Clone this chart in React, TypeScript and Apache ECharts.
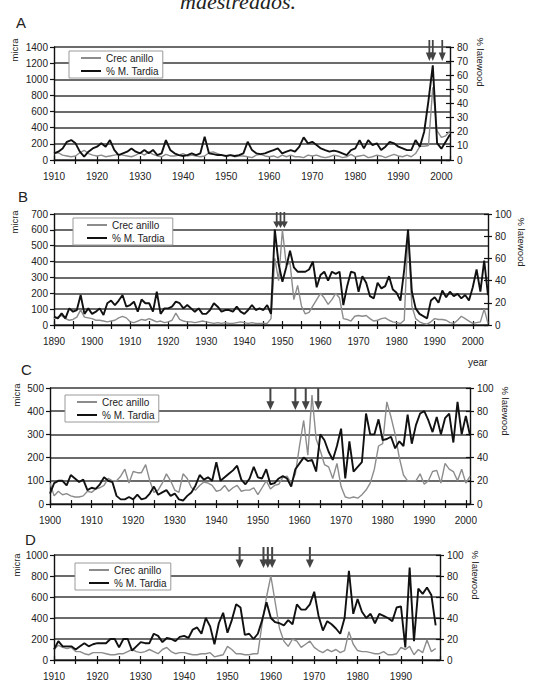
import React, { useEffect, useRef } from "react";
import * as echarts from "echarts";

// ---------- Panel A (1910-2002) ----------
const startA = 1910;
const endA = 2002;
const crecA = [
  80, 90, 60, 50, 40, 50, 90, 120, 80, 60,
  50, 60, 40, 50, 60, 70, 60, 50, 40, 60,
  90, 60, 100, 70, 50, 40, 70, 50, 50, 60,
  80, 50, 60, 50, 40, 50, 90, 100, 80, 60,
  50, 60, 40, 50, 50, 40, 30, 60, 70, 50,
  40, 50, 30, 60, 40, 60, 40, 40, 30, 60,
  50, 60, 40, 30, 40, 60, 50, 30, 40, 70,
  40, 50, 60, 30, 40, 60, 50, 30, 50, 70,
  50, 40, 60, 40, 80, 170, 170, 180, 900, 360,
  280, 300, 360,
];
const tardiaA = [
  4.7, 5.9, 8.2, 12.9, 14.1, 11.8, 5.9, 2.4, 5.9, 8.2,
  9.4, 11.8, 9.4, 14.1, 7.1, 3.5, 4.7, 5.9, 8.2, 5.9,
  4.7, 7.1, 4.7, 7.1, 3.5, 4.7, 14.1, 7.1, 4.7, 3.5,
  2.8, 3.5, 4.7, 3.5, 4.7, 16.5, 4.7, 4.2, 3.5, 3.5,
  2.8, 3.5, 2.8, 3.5, 4.7, 12.9, 7, 4.7, 4.2, 4.7,
  5.9, 7, 8.2, 4.7, 5.9, 7, 5.9, 9.4, 16, 11.8,
  12.9, 10.6, 8.2, 7, 5.9, 6.6, 5.9, 4.7, 3.5, 7,
  8.2, 14.1, 8.2, 14.1, 10.6, 11.8, 7, 9.4, 12.9, 11.8,
  9.4, 8.2, 7, 7, 14.1, 9.4, 20, 42, 67, 12,
  8, 13, 18,
];
const arrowsA = [1997.2, 1998, 2000.2];

// ---------- Panel B (1890-2004) ----------
const startB = 1890;
const endB = 2004;
const crecB = [
  40, 50, 60, 40, 30, 35, 50, 95, 50, 45,
  40, 30, 30, 25, 20, 25, 30, 45, 55, 45,
  20, 15, 25, 35, 30, 40, 30, 20, 25, 15,
  20, 30, 75, 35, 25, 20, 20, 15, 20, 25,
  20, 15, 10, 15, 10, 15, 10, 10, 15, 20,
  15, 10, 15, 10, 10, 10, 10, 40, 420, 280,
  600, 380, 390, 160, 250, 120, 70, 80, 120, 160,
  200, 170, 130, 160, 200, 170, 40, 35, 25, 55,
  60, 55, 60, 40, 25, 30, 40, 45, 30, 20,
  15, 10, 30, 590, 120, 40, 20, 10, 5, 20,
  40, 35, 35, 30, 15, 10, 30, 55, 40, 25,
  10, 15, 20, 100, 10,
];
const tardiaB = [
  7.5, 6, 10.5, 6, 15, 12, 13.5, 27, 10, 15,
  10, 12, 15, 9, 19.6, 22, 18, 22, 27, 16.5,
  18, 21, 12, 23, 19.6, 19.6, 12, 30, 10, 15,
  15, 16.5, 21, 19.6, 15, 18, 15, 12, 15, 10,
  10, 13.5, 19.6, 16.5, 12, 13.5, 13.5, 12, 16.5, 12,
  10, 13.5, 18, 13.5, 15, 13.5, 18, 10, 86, 55,
  39, 52, 67, 52, 48, 48, 48, 50, 57, 34,
  45, 48, 40, 48, 46, 48, 18, 35, 48, 47,
  30, 44, 38, 26, 24, 38, 33, 35, 44, 32,
  29, 22, 50, 86, 30, 15, 10, 8, 6, 22,
  25, 20, 31, 25, 30, 26, 28, 24, 27, 22,
  34, 50, 30, 58, 27,
];
const arrowsB = [1948.5, 1949.5, 1950.5];

// ---------- Panel C (1900-2001) ----------
const startC = 1900;
const endC = 2001;
const crecC = [
  90, 35, 55, 40, 45, 35, 30, 30, 35, 55,
  50, 65, 70, 80, 110, 100, 100, 120, 150, 90,
  140, 135, 135, 170, 100, 50, 60, 90, 130, 100,
  60, 50, 130, 110, 70, 60, 80, 95, 90, 80,
  55, 60, 80, 55, 70, 80, 55, 60, 60, 70,
  40, 70, 100, 65, 80, 85, 115, 120, 90, 130,
  250, 360, 210, 470, 280, 230, 170, 160, 110, 175,
  75, 30, 25, 30, 25, 40, 60, 90, 150, 250,
  260, 440, 375, 300, 200, 125, 100, 100, 100, 130,
  85, 100, 140, 145, 90, 175, 150, 140, 100, 150,
  90, 120,
];
const tardiaC = [
  9, 18, 20, 20, 16, 25, 22, 19, 21, 12,
  14, 13, 17, 23, 20, 19, 7, 4, 4, 6,
  4, 8, 4, 5, 9, 15, 8, 10, 12, 7,
  9, 4, 3, 7, 10, 16, 25, 21, 23, 20,
  36, 20, 23, 26, 29, 33, 21, 17, 22, 32,
  23, 22, 30, 17, 18, 22, 24, 22, 15, 30,
  35, 40, 37, 38, 28, 60, 55, 45, 38, 50,
  65, 22, 54, 28, 32, 36, 78, 60, 60, 73,
  55, 56, 58, 48, 54, 50, 77, 52, 68, 78,
  80, 72, 62, 75, 60, 74, 78, 53, 88, 60,
  76, 59,
];
const arrowsC = [1953, 1959, 1961.5, 1964.5];

// ---------- Panel D (1910-1998, axis to 1999) ----------
const startD = 1910;
const endD = 1999;
const crecD = [
  100, 140, 120, 110, 120, 80, 80, 60, 50, 70,
  70, 70, 60, 50, 50, 60, 60, 80, 100, 80,
  70, 80, 100, 80, 60, 100, 120, 80, 60, 70,
  70, 60, 50, 50, 60, 60, 70, 30, 40, 50,
  130, 100, 60, 60, 50, 50, 60, 60, 350, 600,
  800, 550, 300, 180, 130, 200, 180, 120, 150, 180,
  120, 90, 70, 100, 80, 100, 70, 90, 270, 150,
  90, 80, 80, 70, 60, 60, 80, 50, 50, 60,
  120, 100, 130, 50, 100, 70, 190, 80, 110,
];
const tardiaD = [
  10, 18, 13, 13, 13, 10, 13, 16, 13, 15,
  16, 16, 16, 20, 20, 12, 20, 20, 9, 13,
  17, 16, 16, 25, 23, 17, 21, 20, 18, 22,
  23, 21, 29, 31, 25, 40, 32, 15, 35, 45,
  26, 38, 53, 50, 24, 25, 20, 25, 38, 55,
  40, 36, 35, 33, 38, 34, 53, 48, 48, 53,
  65, 42, 28, 37, 34, 30, 25, 40, 85, 44,
  58, 46, 40, 44, 35, 44, 42, 40, 37, 50,
  51, 12, 88, 18, 68, 63, 69, 62, 33,
];
const arrowsD = [1952.8, 1958.3, 1959.3, 1960.3, 1969];

const NAME_CREC = "Crec anillo";
const NAME_TARDIA = "% M. Tardia";
const FONT = "'Liberation Sans', Arial, sans-serif";
const ARROW = "path://M3,0L5,0L5,12L8,12L4,20L0,12L3,12Z";

const panels = [
  {
    start: startA, end: endA, crec: crecA, tardia: tardiaA, arrows: arrowsA,
    leftMax: 1400, leftInt: 200, rightMax: 80, rightInt: 10,
    grid: { left: 54, top: 47, width: 396, height: 113 },
    legend: { left: 69, top: 51, padding: [2, 4, 2, 12] },
    arrow: { w: 7, h: 21, up: 7 },
  },
  {
    start: startB, end: endB, crec: crecB, tardia: tardiaB, arrows: arrowsB,
    leftMax: 700, leftInt: 100, rightMax: 100, rightInt: 20,
    grid: { left: 54, top: 214, width: 434, height: 111 },
    legend: { left: 73, top: 218, padding: [2, 8, 2, 14] },
    arrow: { w: 7, h: 16, up: 2 },
  },
  {
    start: startC, end: endC, crec: crecC, tardia: tardiaC, arrows: arrowsC,
    leftMax: 500, leftInt: 100, rightMax: 100, rightInt: 20,
    grid: { left: 50, top: 388, width: 420, height: 116 },
    legend: { left: 65, top: 395, padding: [2, 4, 2, 12] },
    arrow: { w: 8, h: 22, up: 0 },
  },
  {
    start: startD, end: endD, crec: crecD, tardia: tardiaD, arrows: arrowsD,
    leftMax: 1000, leftInt: 200, rightMax: 100, rightInt: 20,
    grid: { left: 54, top: 555, width: 386, height: 105 },
    legend: { left: 75, top: 563, padding: [2, 4, 2, 14] },
    arrow: { w: 8, h: 21, up: 8 },
  },
];

const pairs = (start: number, vals: number[]) => vals.map((v, i) => [start + i, v]);

const labelStyle = { fontSize: 10, color: "#222", fontFamily: FONT };
const axisLine = { show: true, onZero: false, lineStyle: { color: "#111", width: 1.4 } };
const tickLine = { color: "#111", width: 1.2 };
const plain = (v: number) => String(v);

function buildOption() {
  const grids: any[] = [];
  const xAxes: any[] = [];
  const yAxes: any[] = [];
  const series: any[] = [];
  const legends: any[] = [];

  panels.forEach((p, i) => {
    grids.push({ ...p.grid, containLabel: false, outerBoundsMode: "none" });
    xAxes.push({
      gridIndex: i, type: "value", position: "bottom", min: p.start, max: p.end, interval: 5,
      axisLine, axisTick: { show: true, length: 4, lineStyle: tickLine },
      axisLabel: { ...labelStyle, margin: 11, showMaxLabel: false, formatter: (v: number) => (v % 10 === 0 ? String(v) : "") },
      splitLine: { show: false },
    });
    xAxes.push({
      gridIndex: i, type: "value", position: "bottom", min: p.start, max: p.end, interval: 5,
      axisLine: { show: false }, axisTick: { show: true, inside: true, length: 4, lineStyle: tickLine },
      axisLabel: { show: false }, splitLine: { show: false },
    });
    yAxes.push({
      gridIndex: i, type: "value", position: "left", min: 0, max: p.leftMax, interval: p.leftInt,
      axisLine, axisTick: { show: true, length: 4, lineStyle: tickLine },
      axisLabel: { ...labelStyle, margin: 6, formatter: plain },
      splitLine: { show: true, lineStyle: { color: "#3a3a3a", width: 1.6 } },
    });
    yAxes.push({
      gridIndex: i, type: "value", position: "right", min: 0, max: p.rightMax, interval: p.rightInt,
      axisLine, axisTick: { show: true, length: 4, lineStyle: tickLine },
      axisLabel: { ...labelStyle, margin: 7, formatter: plain },
      splitLine: { show: false },
    });
    yAxes.push({
      gridIndex: i, type: "value", position: "right", min: 0, max: p.rightMax, interval: p.rightInt,
      axisLine: { show: false }, axisTick: { show: true, inside: true, length: 4, lineStyle: tickLine },
      axisLabel: { show: false }, splitLine: { show: false },
    });

    series.push({
      name: NAME_CREC, type: "line", xAxisIndex: 2 * i, yAxisIndex: 3 * i,
      data: pairs(p.start, p.crec), symbol: "none", z: 3,
      lineStyle: { color: "#8c8c8c", width: 1.4 }, itemStyle: { color: "#8c8c8c" },
    });
    series.push({
      name: NAME_TARDIA, type: "line", xAxisIndex: 2 * i, yAxisIndex: 3 * i + 1,
      data: pairs(p.start, p.tardia), symbol: "none", z: 4,
      lineStyle: { color: "#111", width: 1.9 }, itemStyle: { color: "#111" },
      markPoint: {
        symbol: ARROW, symbolSize: [p.arrow.w, p.arrow.h],
        symbolOffset: [0, p.arrow.h / 2 - p.arrow.up],
        itemStyle: { color: "#444" }, label: { show: false },
        data: p.arrows.map((a) => ({ coord: [a, p.rightMax] })),
      },
    });

    legends.push({
      left: p.legend.left, top: p.legend.top, orient: "vertical",
      data: [NAME_CREC, NAME_TARDIA], icon: "rect", itemWidth: 20, itemHeight: 2, itemGap: 3,
      padding: p.legend.padding, backgroundColor: "#fff", borderColor: "#9a9a9a", borderWidth: 1,
      textStyle: { fontSize: 10, color: "#222", fontFamily: FONT }, selectedMode: false,
    });
  });

  const txt = (text: string, x: number, y: number, size: number, opts: any = {}) => ({
    type: "text", x, y, rotation: opts.rotation || 0, z: 10,
    style: {
      text, fontSize: size, fontFamily: opts.family || FONT, fontStyle: opts.italic ? "italic" : "normal",
      fill: "#222", align: opts.align || "left", verticalAlign: opts.vAlign || "top",
    },
  });
  const rotL = { rotation: Math.PI / 2, align: "center", vAlign: "middle" };
  const rotR = { rotation: -Math.PI / 2, align: "center", vAlign: "middle" };

  const graphic = [
    txt("maestreados.", 238, 12, 22, { family: "'Liberation Serif', serif", italic: true, align: "center", vAlign: "bottom" }),
    txt("A", 16, 15, 15),
    txt("B", 18, 189, 15),
    txt("C", 21, 362, 15),
    txt("D", 25, 532, 15),
    txt("micra", 14, 50, 9.5, rotL),
    txt("micra", 14, 222, 9.5, rotL),
    txt("micra", 16, 395, 9.5, rotL),
    txt("micra", 16, 565, 9.5, rotL),
    txt("% latewood", 480, 62, 9.5, rotR),
    txt("% latewood", 521, 242, 9.5, rotR),
    txt("% latewood", 505, 411, 9.5, rotR),
    txt("% latewood", 475, 575, 9.5, rotR),
    txt("year", 468, 357, 10),
  ];

  return {
    animation: false,
    backgroundColor: "#fff",
    grid: grids,
    xAxis: xAxes,
    yAxis: yAxes,
    legend: legends,
    series,
    graphic,
  };
}

export default function App() {
  const ref = useRef<HTMLDivElement>(null);
  useEffect(() => {
    document.body.style.margin = "0";
    if (!ref.current) return;
    const chart = echarts.init(ref.current, undefined, { renderer: "svg" });
    chart.setOption(buildOption() as any);
    return () => chart.dispose();
  }, []);
  return <div ref={ref} style={{ width: 556, height: 682 }} />;
}
